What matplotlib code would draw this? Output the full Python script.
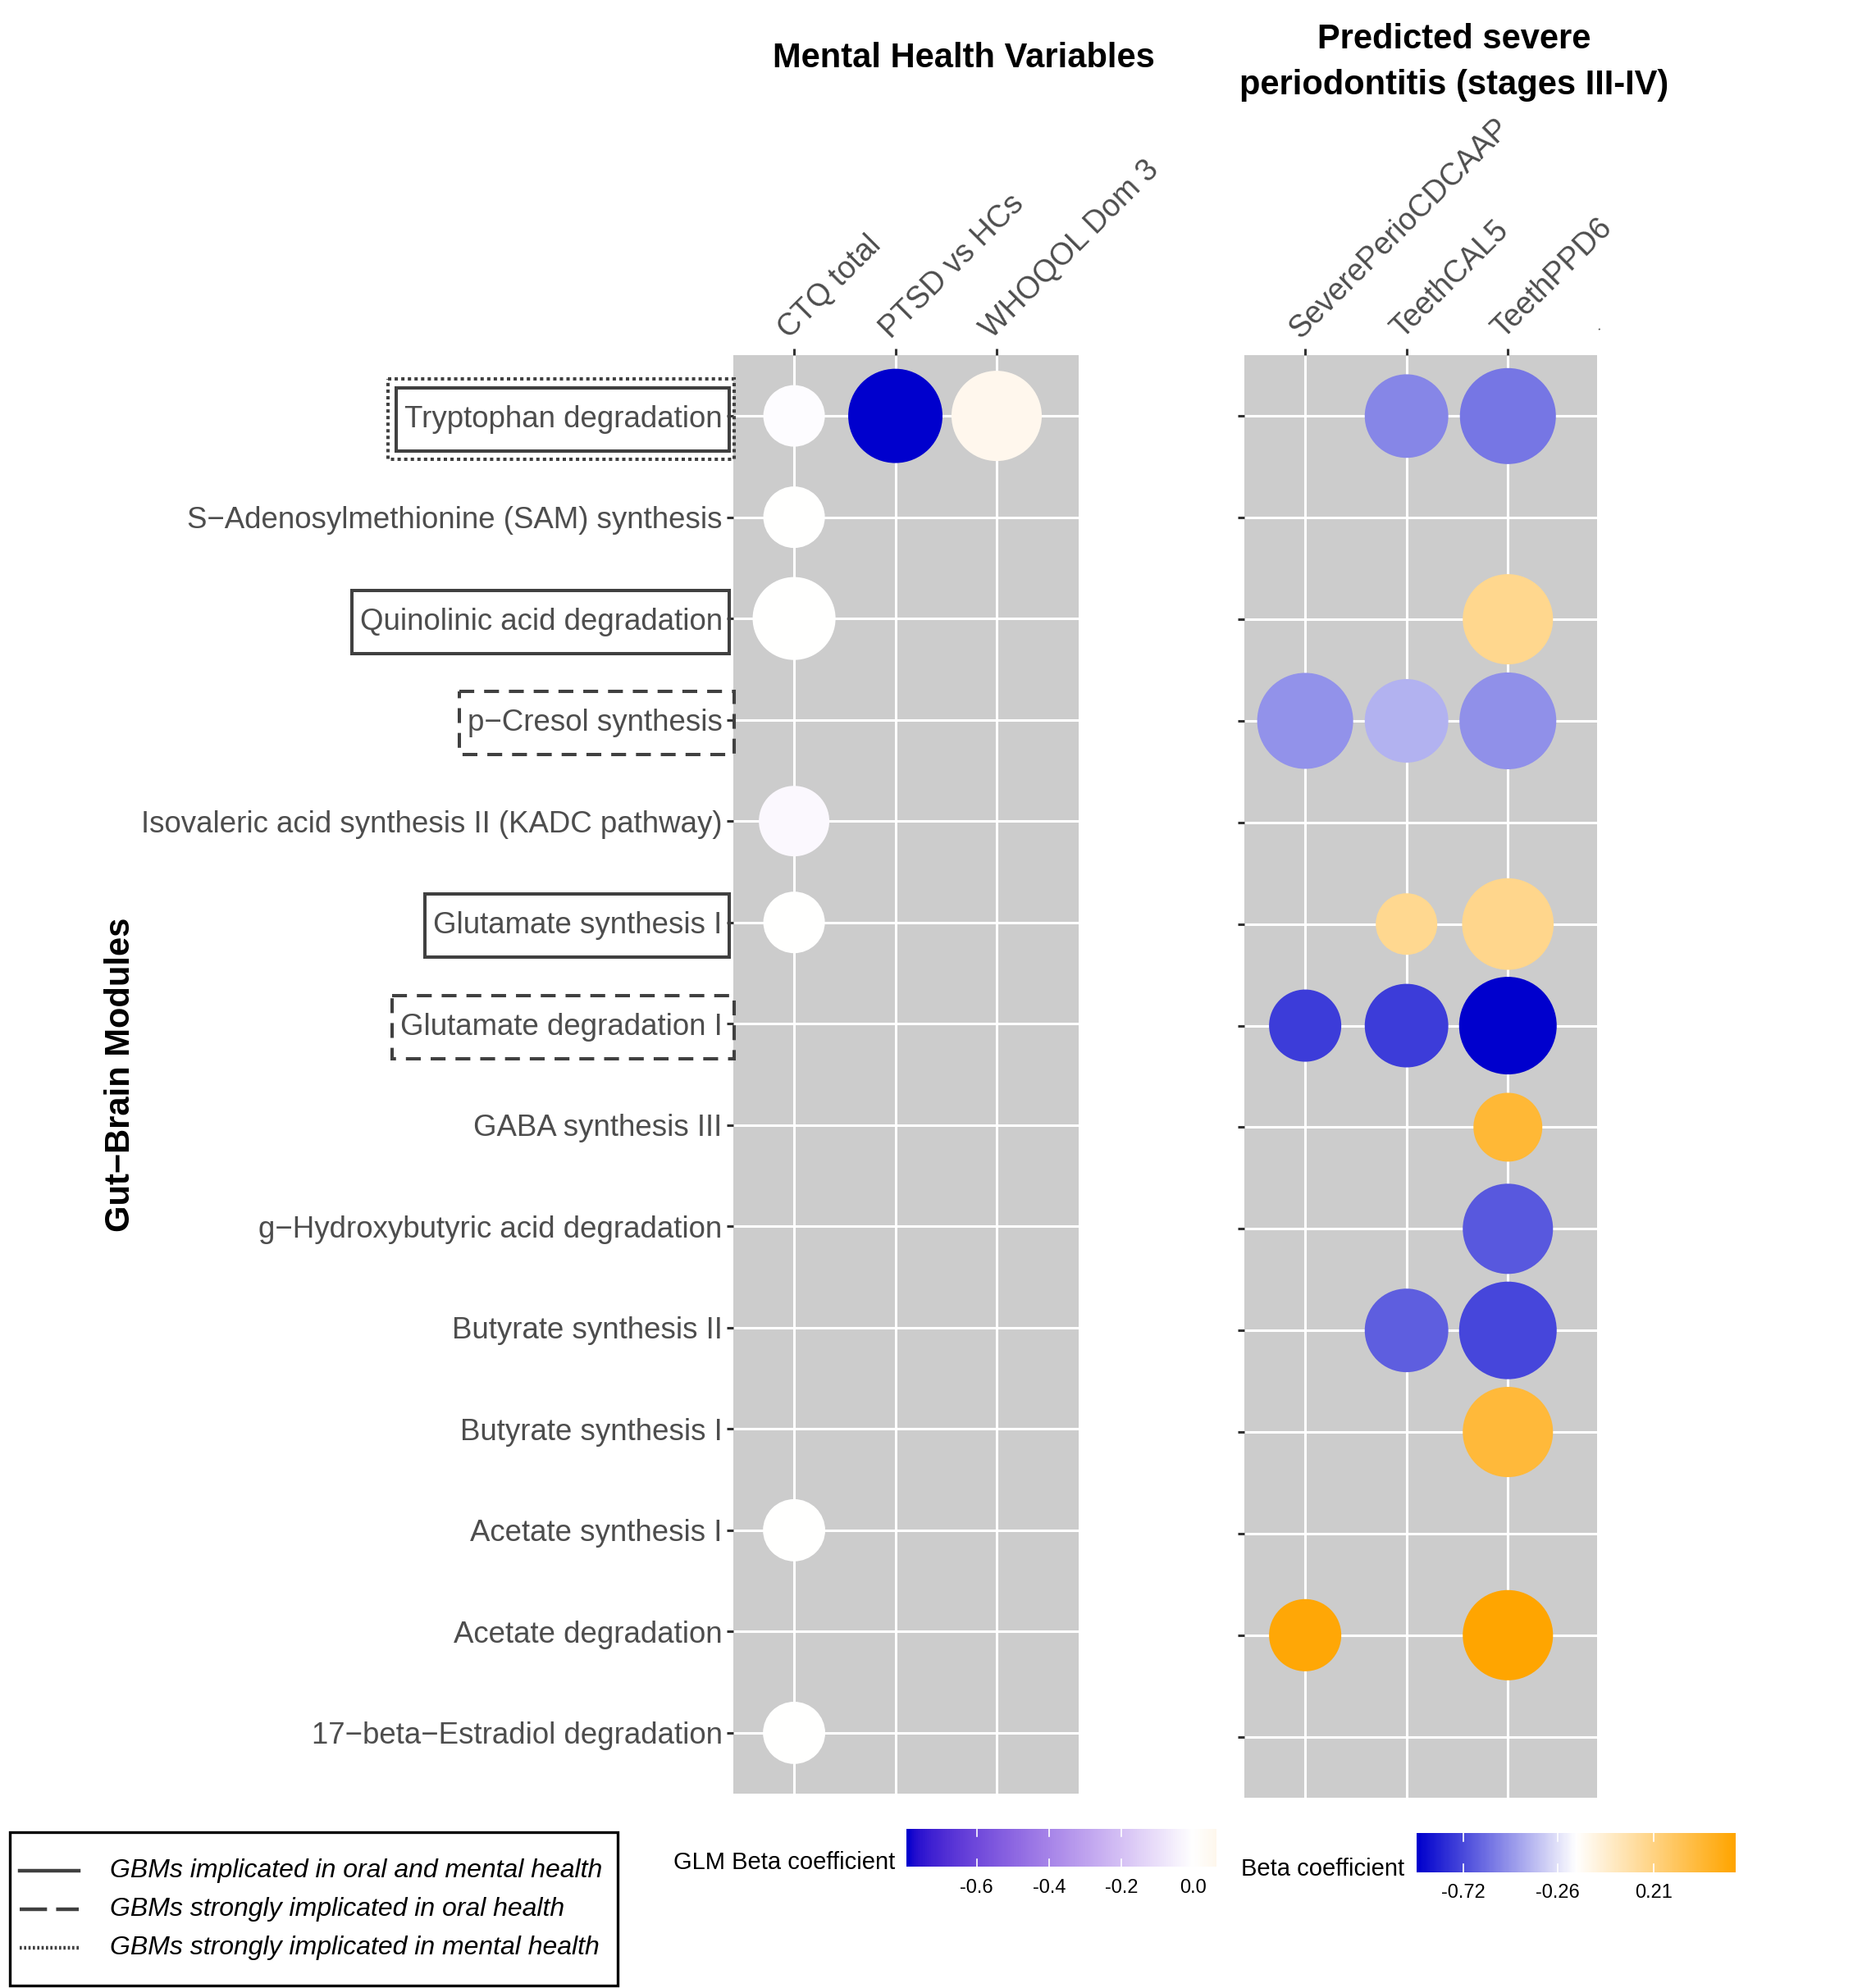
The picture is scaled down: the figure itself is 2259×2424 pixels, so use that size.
import numpy as np
import matplotlib
matplotlib.use('Agg')
import matplotlib.pyplot as plt
from matplotlib.colors import LinearSegmentedColormap, ListedColormap, Normalize, to_rgb
from matplotlib.patches import Rectangle
from matplotlib.lines import Line2D

plt.rcParams['font.family'] = ['Liberation Sans', 'DejaVu Sans']

# ---- data -------------------------------------------------------------
modules = ['Tryptophan degradation',
           'S\u2212Adenosylmethionine (SAM) synthesis',
           'Quinolinic acid degradation',
           'p\u2212Cresol synthesis',
           'Isovaleric acid synthesis II (KADC pathway)',
           'Glutamate synthesis I',
           'Glutamate degradation I',
           'GABA synthesis III',
           'g\u2212Hydroxybutyric acid degradation',
           'Butyrate synthesis II',
           'Butyrate synthesis I',
           'Acetate synthesis I',
           'Acetate degradation',
           '17\u2212beta\u2212Estradiol degradation']

mh_vars = ['CTQ total', 'PTSD vs HCs', 'WHOQOL Dom 3']
perio_vars = ['SeverePerioCDCAAP', 'TeethCAL5', 'TeethPPD6']

# mental health GLM results
mh_module = [0, 0, 0, 1, 2, 4, 5, 11, 13]
mh_var = [0, 1, 2, 0, 0, 0, 0, 0, 0]
mh_beta = [-0.012, -0.795, 0.064, 0.003, 0.002, -0.02, 0.003, 0.003, 0.004]
mh_sig = [1.3, 3.75, 3.45, 1.3, 2.9, 1.97, 1.3, 1.35, 1.35]   # -log10 p

# periodontitis results
pd_module = [0, 0, 2, 3, 3, 3, 5, 5, 6, 6, 6, 7, 8, 9, 9, 10, 12, 12]
pd_var = [1, 2, 2, 0, 1, 2, 1, 2, 0, 1, 2, 2, 2, 1, 2, 2, 0, 2]
pd_beta = [-0.535, -0.587, 0.174, -0.50, -0.40, -0.504, 0.168, 0.182,
           -0.76, -0.76, -0.947, 0.442, -0.678, -0.657, -0.73, 0.432, 0.588, 0.61]
pd_sig = [2.95, 3.88, 3.45, 3.88, 2.95, 3.94, 1.3, 3.55,
          2.1, 2.95, 4.0, 1.85, 3.45, 2.95, 4.0, 3.45, 2.1, 3.45]

# highlighted modules
solid_box = ['Tryptophan degradation', 'Quinolinic acid degradation', 'Glutamate synthesis I']
dashed_box = ['p\u2212Cresol synthesis', 'Glutamate degradation I']
dotted_box = ['Tryptophan degradation']

legend_labels = ['GBMs implicated in oral and mental health',
                 'GBMs strongly implicated in oral health',
                 'GBMs strongly implicated in mental health']

mh_ticks = [-0.6, -0.4, -0.2, 0.0]
pd_ticks = [-0.72, -0.26, 0.21]

# ---- colour scales ----------------------------------------------------
M = np.array([[0.4124, 0.3576, 0.1805], [0.2126, 0.7152, 0.0722], [0.0193, 0.1192, 0.9505]])
WREF = np.array([0.95047, 1.0, 1.08883])


def to_lab(c):
    rgb = np.array(to_rgb(c))
    lin = np.where(rgb <= 0.04045, rgb / 12.92, ((rgb + 0.055) / 1.055) ** 2.4)
    xyz = M @ lin / WREF
    f = np.where(xyz > (6 / 29) ** 3, np.cbrt(xyz), xyz / (3 * (6 / 29) ** 2) + 4 / 29)
    return np.array([116 * f[1] - 16, 500 * (f[0] - f[1]), 200 * (f[1] - f[2])])


def from_lab(lab):
    fy = (lab[0] + 16) / 116
    f = np.array([fy + lab[1] / 500, fy, fy - lab[2] / 200])
    xyz = np.where(f > 6 / 29, f ** 3, 3 * (6 / 29) ** 2 * (f - 4 / 29)) * WREF
    lin = np.linalg.solve(M, xyz)
    lin = np.clip(lin, 0, 1)
    rgb = np.where(lin <= 0.0031308, 12.92 * lin, 1.055 * lin ** (1 / 2.4) - 0.055)
    return np.clip(rgb, 0, 1)


def lab_ramp(cols, n=256):
    labs = [to_lab(c) for c in cols]
    out = []
    for t in np.linspace(0, 1, n):
        if t <= 0.5:
            s = t / 0.5
            out.append(from_lab(labs[0] * (1 - s) + labs[1] * s))
        else:
            s = (t - 0.5) / 0.5
            out.append(from_lab(labs[1] * (1 - s) + labs[2] * s))
    return ListedColormap(out)


cmap_mh = lab_ramp(['#0000CD', 'white', 'orange'])
mh_lim = max(abs(min(mh_beta)), abs(max(mh_beta)))
norm_mh = Normalize(-mh_lim, mh_lim)

cmap_pd = LinearSegmentedColormap.from_list('pd', ['#0000CD', 'white', '#FFA500'])
norm_pd = Normalize(min(pd_beta), max(pd_beta))


def dot_size(sig):
    d_px = 75 + (np.array(sig) - 1.3) * 16.3
    return (d_px * 72 / 200) ** 2


# ---- figure -----------------------------------------------------------
W, H = 2259, 2424
fig = plt.figure(figsize=(W / 200, H / 200), dpi=200)


def fig_rect(x0, y0, x1, y1):
    return [x0 / W, 1 - y1 / H, (x1 - x0) / W, (y1 - y0) / H]


ax1 = fig.add_axes(fig_rect(894, 433, 1315, 2187))
ax2 = fig.add_axes(fig_rect(1517, 433, 1947, 2192))

grey30 = '#4D4D4D'
for ax, xlabels, xmax in [(ax1, mh_vars, 3.81), (ax2, perio_vars, 3.88)]:
    ax.set_facecolor('#CCCCCC')
    ax.set_xlim(0.4, xmax)
    ax.set_ylim(len(modules) + 0.6, 0.4)
    ax.set_xticks(np.arange(1, len(xlabels) + 1))
    ax.set_yticks(np.arange(1, len(modules) + 1))
    ax.grid(True, color='white', lw=1.1)
    ax.set_axisbelow(True)
    for s in ax.spines.values():
        s.set_visible(False)
    ax.xaxis.tick_top()
    ax.tick_params(axis='both', color='#333333', length=2.8, width=1.1, pad=2)
    ax.set_xticklabels(xlabels, rotation=45, ha='left', va='bottom',
                       rotation_mode='anchor', fontsize=13.5, color=grey30)

ax1.set_yticklabels(modules, fontsize=13.2, color=grey30)
ax2.set_yticklabels([])

ax1.scatter(np.array(mh_var) + 1, np.array(mh_module) + 1, s=dot_size(mh_sig),
            c=mh_beta, cmap=cmap_mh, norm=norm_mh, linewidths=0, zorder=3)
ax2.scatter(np.array(pd_var) + 1, np.array(pd_module) + 1, s=dot_size(pd_sig),
            c=pd_beta, cmap=cmap_pd, norm=norm_pd, linewidths=0, zorder=3)

# overlay in pixel coordinates for annotations
ov = fig.add_axes([0, 0, 1, 1], zorder=5)
ov.set_xlim(0, W)
ov.set_ylim(H, 0)
ov.axis('off')

ov.text(1175, 71, 'Mental Health Variables', ha='center', va='center',
        fontsize=15, fontweight='bold')
ov.text(1773, 76, 'Predicted severe\nperiodontitis (stages III-IV)', ha='center',
        va='center', fontsize=15, fontweight='bold', linespacing=1.5)
ov.text(147, 1310, 'Gut\u2212Brain Modules', rotation=90, ha='center', va='center',
        fontsize=15, fontweight='bold')
ov.text(1947, 398, '.', rotation=45, ha='center', va='center', fontsize=7, color=grey30)

# boxes around highlighted module labels
fig.canvas.draw()
renderer = fig.canvas.get_renderer()
for lab in ax1.get_yticklabels():
    name = lab.get_text()
    bb = lab.get_window_extent(renderer)
    left = bb.x0 - 10
    yc = H - (bb.y0 + bb.y1) / 2
    if name in solid_box:
        ov.add_patch(Rectangle((left, yc - 38.5), 889 - left, 77, fill=False,
                               ec='#404040', lw=1.45))
    if name in dashed_box:
        ov.add_patch(Rectangle((left, yc - 38.5), 895 - left, 77, fill=False,
                               ec='#404040', lw=1.45, ls=(0, (4.5, 3))))
    if name in dotted_box:
        ov.add_patch(Rectangle((left - 10, yc - 49), 905 - left, 98, fill=False,
                               ec='#404040', lw=1.45, ls=(0, (1, 1))))

# legend for box styles
ov.add_patch(Rectangle((11.5, 2234), 741, 187, fill=False, ec='black', lw=1.2))
for i, (lab, ls) in enumerate(zip(legend_labels, ['-', (0, (7.5, 2.5)), (0, (0.6, 0.6))])):
    y = 2281 + i * 47
    ov.add_line(Line2D([24, 96], [y, y], color='#404040', lw=1.6, ls=ls))
    ov.text(134, y, lab, ha='left', va='center', fontsize=11.5, style='italic')


# colour bars
def colorbar(rect, cmap, norm, lo, hi, ticks, label, lab_x, lab_y, tick_y):
    cax = fig.add_axes(fig_rect(*rect))
    grad = np.linspace(lo, hi, 300)[None, :]
    cax.imshow(grad, cmap=cmap, norm=norm, aspect='auto', extent=[lo, hi, 0, 1])
    cax.set_xlim(lo, hi)
    cax.set_ylim(0, 1)
    cax.axis('off')
    for t in ticks:
        cax.plot([t, t], [0, 0.2], color='white', lw=0.6)
        cax.plot([t, t], [0.8, 1], color='white', lw=0.6)
        xp = rect[0] + (t - lo) / (hi - lo) * (rect[2] - rect[0])
        ov.text(xp, tick_y, f'{t:.1f}' if len(ticks) == 4 else f'{t:.2f}',
                ha='center', va='center', fontsize=8.5)
    ov.text(lab_x, lab_y, label, ha='right', va='center', fontsize=10.5)


colorbar((1105, 2230, 1483, 2276), cmap_mh, norm_mh, min(mh_beta), max(mh_beta),
         mh_ticks, 'GLM Beta coefficient', 1091, 2271, 2302)
colorbar((1727, 2235, 2116, 2283), cmap_pd, norm_pd, min(pd_beta), max(pd_beta),
         pd_ticks, 'Beta coefficient', 1712, 2279, 2308)

fig.savefig('out.png', dpi=200)
